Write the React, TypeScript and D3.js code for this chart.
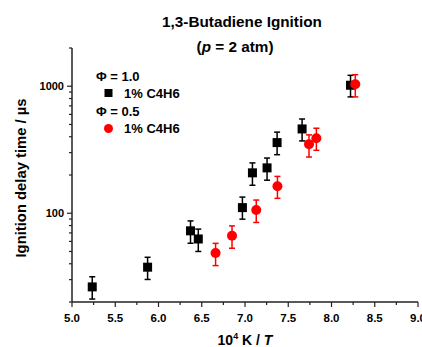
import * as d3 from "d3";
import React from "react";

// phi = 1.0, 1% C4H6 (black squares)
const phi10X = [5.234, 5.874, 6.37, 6.46, 6.97, 7.086, 7.255, 7.371, 7.66, 8.22];
const phi10Y = [26.3, 37.6, 72.7, 62.7, 110.7, 208, 227.6, 360, 461, 1018];
const phi10Lo = [21.1, 30.1, 58, 50, 89.8, 166, 182, 289, 371, 824];
const phi10Hi = [31.6, 45, 87, 75, 134, 249, 272, 435, 552, 1219];

// phi = 0.5, 1% C4H6 (red circles)
const phi05X = [6.66, 6.85, 7.13, 7.375, 7.74, 7.825, 8.275];
const phi05Y = [48.7, 66.5, 106, 163, 350, 390, 1037];
const phi05Lo = [38.7, 53, 84.6, 131, 277, 313, 824];
const phi05Hi = [57.9, 79.5, 127, 195, 414, 467, 1233];

const xTicks = [5.0, 5.5, 6.0, 6.5, 7.0, 7.5, 8.0, 8.5, 9.0];
const yTicks = [100, 1000];

const W = 422, H = 347;
const m = { left: 72, right: 4, top: 48, bottom: 45 };
const font = "'Liberation Sans', Arial, sans-serif";

export default function App() {
  const x = d3.scaleLinear().domain([5, 9]).range([m.left, W - m.right]);
  const y = d3.scaleLog().domain([20, 2000]).range([H - m.bottom, m.top]);

  const xMinor = d3.range(5, 9.01, 0.25).filter(v => Math.abs(v * 2 - Math.round(v * 2)) > 0.01);
  const yMinor = [20, 30, 40, 50, 60, 70, 80, 90, 200, 300, 400, 500, 600, 700, 800, 900, 2000];

  const bar = (cx: number, lo: number, hi: number, color: string, key: string) => (
    <g key={key} stroke={color} strokeWidth={1.5}>
      <line x1={cx} x2={cx} y1={y(lo)} y2={y(hi)} />
      <line x1={cx - 3} x2={cx + 3} y1={y(lo)} y2={y(lo)} />
      <line x1={cx - 3} x2={cx + 3} y1={y(hi)} y2={y(hi)} />
    </g>
  );

  return (
    <svg width={W} height={H} style={{ position: "absolute", left: 0, top: 0, background: "#fff" }} fontFamily={font} fontWeight="bold">
      <text x={242} y={27} textAnchor="middle" fontSize={15.3}>1,3-Butadiene Ignition</text>
      <text x={235} y={52} textAnchor="middle" fontSize={15.3}>(<tspan fontStyle="italic">p</tspan> = 2 atm)</text>

      {/* axes */}
      <line x1={m.left} x2={m.left} y1={m.top} y2={H - m.bottom} stroke="#222" strokeWidth={1.5} />
      <line x1={m.left} x2={W - m.right} y1={H - m.bottom} y2={H - m.bottom} stroke="#222" strokeWidth={1.5} />
      {xTicks.map(t => (
        <g key={t}>
          <line x1={x(t)} x2={x(t)} y1={H - m.bottom} y2={H - m.bottom + 5} stroke="#222" strokeWidth={1.2} />
          <text x={x(t)} y={H - m.bottom + 20} textAnchor="middle" fontSize={11.5}>{t.toFixed(1)}</text>
        </g>
      ))}
      {xMinor.map(t => (
        <line key={t} x1={x(t)} x2={x(t)} y1={H - m.bottom} y2={H - m.bottom + 3} stroke="#222" strokeWidth={1.2} />
      ))}
      {yTicks.map(t => (
        <g key={t}>
          <line x1={m.left - 5} x2={m.left} y1={y(t)} y2={y(t)} stroke="#222" strokeWidth={1.2} />
          <text x={m.left - 8} y={y(t)} dy="0.35em" textAnchor="end" fontSize={11}>{t}</text>
        </g>
      ))}
      {yMinor.map(t => (
        <line key={t} x1={m.left - 3} x2={m.left} y1={y(t)} y2={y(t)} stroke="#222" strokeWidth={1.2} />
      ))}

      <text x={245} y={345} textAnchor="middle" fontSize={14}>
        10<tspan fontSize={9} dy={-6}>4</tspan><tspan dy={6}> K / </tspan><tspan fontStyle="italic">T</tspan>
      </text>
      <text transform="translate(26,178) rotate(-90)" textAnchor="middle" fontSize={14.8}>Ignition delay time / µs</text>

      {/* data */}
      {phi10X.map((v, i) => bar(x(v), phi10Lo[i], phi10Hi[i], "#000", "b" + i))}
      {phi10X.map((v, i) => (
        <rect key={"s" + i} x={x(v) - 4.5} y={y(phi10Y[i]) - 4.5} width={9} height={9} fill="#000" />
      ))}
      {phi05X.map((v, i) => bar(x(v), phi05Lo[i], phi05Hi[i], "#ff0000", "r" + i))}
      {phi05X.map((v, i) => (
        <circle key={"c" + i} cx={x(v)} cy={y(phi05Y[i])} r={5} fill="#ff0000" />
      ))}

      {/* legend */}
      <text x={96} y={81} fontSize={13}>Φ = 1.0</text>
      <rect x={104.5} y={89} width={8} height={8} fill="#000" />
      <text x={124} y={97.5} fontSize={13}>1% C4H6</text>
      <text x={96} y={116} fontSize={13}>Φ = 0.5</text>
      <circle cx={108.5} cy={128.5} r={4.5} fill="#ff0000" />
      <text x={124} y={133} fontSize={13}>1% C4H6</text>
    </svg>
  );
}
